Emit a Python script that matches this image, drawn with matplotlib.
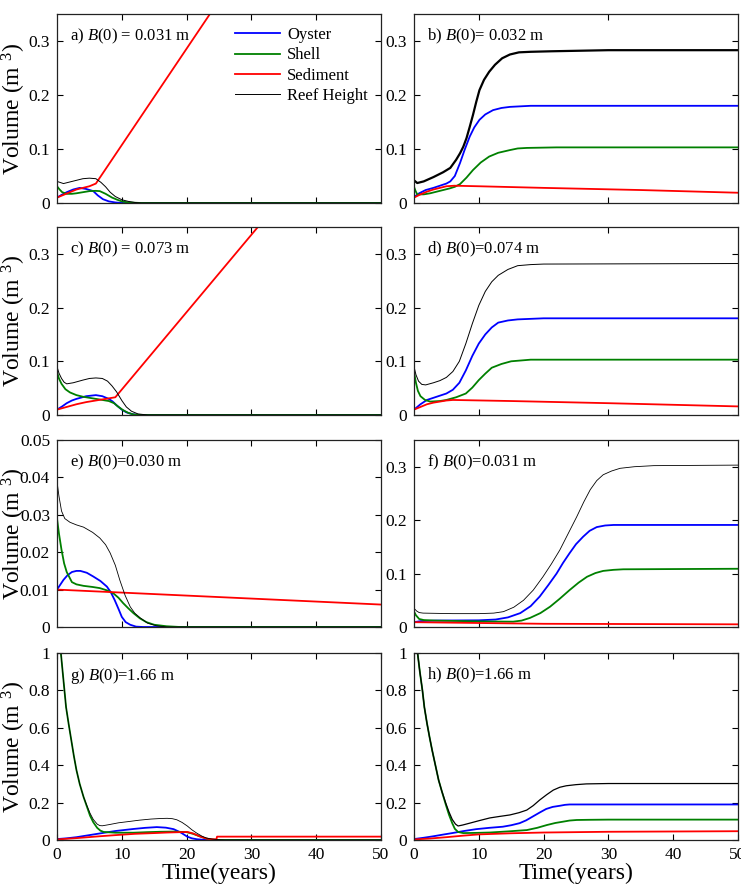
import matplotlib
matplotlib.use("Agg")
import matplotlib.pyplot as plt
import numpy as np

plt.rcParams["font.family"] = ["Liberation Serif", "DejaVu Serif"]
plt.rcParams["mathtext.fontset"] = "custom"
plt.rcParams["mathtext.rm"] = "Liberation Serif"
plt.rcParams["mathtext.it"] = "Liberation Serif:italic"

# (time in years, volume in m^3)
a_oyster = [(0, 0.01), (0.7, 0.015), (1.5, 0.02), (2.5, 0.025), (3.5, 0.028), (4.5, 0.026), (5.6, 0.022), (6.3, 0.014),
            (7.1, 0.007), (8, 0.003), (9, 0.001), (10, 0), (50, 0)]
a_shell = [(0, 0.031), (0.4, 0.025), (0.8, 0.02), (1.5, 0.017), (2.3, 0.017), (3, 0.018), (4, 0.02), (5, 0.022),
           (6, 0.0225), (6.6, 0.022), (7.5, 0.017), (8.5, 0.01), (9.3, 0.006), (10, 0.003), (11, 0.001), (13, 0), (50, 0)]
a_sed = [(0, 0.01), (1, 0.015), (2, 0.02), (3, 0.025), (4, 0.028), (5, 0.031), (6, 0.036), (23.6, 0.35), (30, 0.464)]
a_reef = [(0, 0.04), (0.5, 0.038), (1, 0.036), (2, 0.039), (3, 0.042), (4, 0.045), (5, 0.046), (6, 0.045), (6.8, 0.038),
          (7.5, 0.03), (8.2, 0.02), (9, 0.012), (10, 0.006), (11, 0.003), (12, 0.001), (13, 0), (50, 0)]

b_oyster = [(0, 0.011), (0.8, 0.018), (1.8, 0.024), (3, 0.028), (4, 0.032), (5, 0.036), (5.6, 0.04), (6.3, 0.05),
            (7.1, 0.074), (7.8, 0.098), (8.6, 0.123), (9.3, 0.14), (10.1, 0.154), (11, 0.164), (12.2, 0.172),
            (13.5, 0.176), (14.8, 0.178), (18, 0.18), (50, 0.18)]
b_shell = [(0, 0.03), (0.25, 0.022), (0.5, 0.016), (1.5, 0.016), (2.5, 0.018), (3.5, 0.021), (4.5, 0.024), (5.5, 0.027),
           (6.3, 0.03), (7.1, 0.035), (8.1, 0.047), (9.1, 0.061), (10.3, 0.075), (11.6, 0.086), (13, 0.093),
           (14.8, 0.098), (16, 0.101), (17.4, 0.102), (22, 0.103), (50, 0.103)]
b_sed = [(0, 0.01), (1, 0.016), (2, 0.021), (3, 0.025), (4, 0.028), (5, 0.031), (6.2, 0.032), (10, 0.031), (20, 0.028),
         (35, 0.024), (50, 0.019)]
b_reef = [(0, 0.042), (0.5, 0.037), (1.5, 0.04), (3, 0.048), (4.5, 0.057), (5.6, 0.065), (6.5, 0.08), (7.1, 0.092),
          (7.6, 0.104), (8.1, 0.12), (8.6, 0.141), (9.1, 0.163), (9.6, 0.187), (10.1, 0.209), (10.8, 0.228),
          (11.6, 0.243), (12.5, 0.256), (13.6, 0.268), (14.8, 0.275), (16.2, 0.279), (18, 0.28), (21.3, 0.281),
          (30, 0.283), (50, 0.283)]

c_oyster = [(0, 0.01), (0.8, 0.016), (1.5, 0.022), (2.3, 0.027), (3, 0.03), (4.5, 0.035), (6, 0.037), (7, 0.035),
            (8, 0.03), (8.6, 0.025), (9.2, 0.018), (10, 0.01), (10.7, 0.005), (11.5, 0.002), (12.5, 0), (50, 0)]
c_shell = [(0, 0.08), (0.3, 0.068), (0.7, 0.058), (1.3, 0.048), (2, 0.042), (3, 0.037), (4, 0.034), (5, 0.032),
           (6.5, 0.029), (8, 0.026), (8.8, 0.022), (9.5, 0.015), (10.2, 0.009), (11, 0.004), (11.8, 0.001), (13, 0),
           (50, 0)]
c_sed = [(0, 0.01), (1.5, 0.015), (3, 0.02), (4.5, 0.024), (6, 0.027), (7.5, 0.03), (9, 0.033), (31, 0.35), (40, 0.48)]
c_reef = [(0, 0.09), (0.3, 0.078), (0.7, 0.068), (1.1, 0.061), (1.5, 0.058), (2.5, 0.06), (4, 0.065), (5, 0.068),
          (6, 0.069), (7, 0.068), (7.8, 0.063), (8.5, 0.054), (9.2, 0.043), (10, 0.027), (10.7, 0.015), (11.5, 0.007),
          (12.5, 0.002), (14, 0), (50, 0)]

d_oyster = [(0, 0.01), (1, 0.02), (2, 0.028), (3.5, 0.034), (5, 0.04), (6, 0.047), (7, 0.06), (8, 0.083), (9, 0.11),
            (10, 0.133), (11, 0.15), (12, 0.163), (13, 0.172), (14.5, 0.176), (16, 0.178), (20, 0.18), (50, 0.18)]
d_shell = [(0, 0.08), (0.3, 0.06), (0.6, 0.045), (1, 0.035), (1.7, 0.028), (2.5, 0.025), (4, 0.026), (5, 0.028),
           (6.5, 0.033), (8, 0.04), (9, 0.051), (10, 0.065), (11, 0.077), (12, 0.088), (13.5, 0.095), (15, 0.1),
           (18, 0.103), (50, 0.103)]
d_sed = [(0, 0.01), (1, 0.015), (2, 0.02), (3, 0.023), (4, 0.025), (5, 0.027), (6, 0.028), (15, 0.026), (30, 0.022),
         (50, 0.016)]
d_reef = [(0, 0.09), (0.3, 0.075), (0.7, 0.063), (1.2, 0.057), (1.8, 0.056), (3, 0.06), (4, 0.064), (5, 0.07),
          (6, 0.081), (7, 0.1), (8, 0.133), (9, 0.17), (10, 0.204), (11, 0.23), (12, 0.248), (13, 0.26),
          (14.5, 0.271), (16, 0.278), (18, 0.28), (20, 0.281), (50, 0.282)]

e_oyster = [(0, 0.01), (0.5, 0.0113), (1, 0.0126), (1.6, 0.0138), (2.3, 0.0147), (3, 0.015), (3.6, 0.015),
            (4.6, 0.0145), (5.6, 0.0135), (6.7, 0.0123), (7.7, 0.0108), (8.3, 0.0093), (8.9, 0.0072), (9.5, 0.0048),
            (10, 0.0027), (10.6, 0.0013), (11.3, 0.0006), (12.2, 0.0001), (13.3, 0), (50, 0)]
e_shell = [(0, 0.029), (0.3, 0.025), (0.7, 0.0206), (1.1, 0.017), (1.5, 0.0147), (2.3, 0.012), (3, 0.0114),
           (4.1, 0.011), (5.5, 0.0107), (6.6, 0.0104), (7.7, 0.0098), (8.7, 0.009), (9.5, 0.0078), (10.2, 0.0064),
           (11, 0.005), (11.8, 0.0037), (12.8, 0.0023), (13.8, 0.0013), (15, 0.0006), (16.9, 0.0002), (19, 0), (50, 0)]
e_sed = [(0, 0.01), (50, 0.006)]
e_reef = [(0, 0.0389), (0.3, 0.035), (0.7, 0.031), (1.2, 0.029), (2, 0.028), (3, 0.0273), (4.1, 0.0267),
          (5.5, 0.0253), (6.6, 0.0238), (7.5, 0.022), (8.2, 0.0198), (9, 0.0165), (9.7, 0.0125), (10.5, 0.0085),
          (11.3, 0.0054), (12, 0.0037), (12.8, 0.0025), (14, 0.001), (15.4, 0.0003), (17, 0), (50, 0)]

f_oyster = [(0, 0.009), (1, 0.011), (3.3, 0.012), (10, 0.0125), (12.6, 0.014), (14.5, 0.018), (16.4, 0.026),
            (18, 0.039), (19.4, 0.057), (20.7, 0.078), (22, 0.1), (23, 0.12), (24, 0.138), (25, 0.155), (26.1, 0.169),
            (27.1, 0.18), (28.2, 0.187), (29.5, 0.19), (30.8, 0.191), (50, 0.191)]
f_shell = [(0, 0.029), (0.3, 0.022), (0.8, 0.015), (1.5, 0.013), (3.3, 0.012), (10, 0.0105), (15.3, 0.01),
           (16.6, 0.012), (17.9, 0.017), (19.5, 0.026), (21, 0.038), (22.5, 0.053), (24, 0.069), (25.4, 0.083),
           (26.7, 0.094), (28, 0.101), (29.2, 0.105), (30.8, 0.107), (32.3, 0.108), (50, 0.109)]
f_sed = [(0, 0.009), (20, 0.006), (50, 0.005)]
f_reef = [(0, 0.035), (0.4, 0.03), (0.8, 0.027), (1.4, 0.026), (6, 0.025), (10, 0.025), (12.3, 0.026),
          (13.8, 0.0287), (15.4, 0.037), (16.9, 0.05), (18.4, 0.069), (19.9, 0.094), (21.2, 0.118), (22.5, 0.144),
          (23.8, 0.175), (25.1, 0.206), (26.2, 0.234), (27.2, 0.257), (28.2, 0.274), (29.2, 0.285), (30.5, 0.292),
          (31.8, 0.297), (34, 0.3), (37, 0.302), (50, 0.303)]

g_oyster = [(0, 0.005), (1.5, 0.009), (3, 0.015), (4.8, 0.025), (6.6, 0.035), (9, 0.048), (11.8, 0.059),
            (13.6, 0.065), (15.4, 0.069), (16.8, 0.066), (18, 0.058), (19.1, 0.04), (20.1, 0.018), (20.8, 0.009),
            (21.6, 0.004), (23, 0), (50, 0)]
g_shell = [(0, 1.6), (0.3, 1.25), (0.6, 1.0), (0.9, 0.89), (1.4, 0.71), (1.8, 0.62), (2.2, 0.535), (2.6, 0.45),
           (3, 0.374), (3.5, 0.3), (4.1, 0.23), (4.6, 0.18), (5.1, 0.13), (5.6, 0.095), (6.2, 0.065), (6.7, 0.05),
           (7.2, 0.043), (9, 0.039), (11.8, 0.039), (14, 0.042), (15.9, 0.044), (18, 0.045), (20, 0.042),
           (21, 0.033), (22, 0.02), (23, 0.008), (24, 0.002), (25, 0), (50, 0)]
g_sed = [(0, 0.003), (3, 0.01), (6.6, 0.02), (9, 0.026), (12, 0.033), (15, 0.037), (17, 0.04), (20.1, 0.043),
         (21, 0.035), (22, 0.02), (23, 0.008), (23.8, 0.004), (24.6, 0.004), (24.7, 0.018), (50, 0.018)]
g_reef = [(0, 1.6), (0.3, 1.25), (0.6, 1.0), (0.9, 0.89), (1.4, 0.71), (1.8, 0.62), (2.2, 0.535), (2.6, 0.45),
          (3, 0.374), (3.5, 0.3), (4.1, 0.23), (4.6, 0.185), (5.1, 0.143), (5.6, 0.11), (6.2, 0.085), (6.6, 0.077),
          (7, 0.076), (8, 0.082), (9.5, 0.092), (10.9, 0.098), (12.7, 0.106), (14.5, 0.112), (16, 0.115),
          (17, 0.116), (17.8, 0.114), (18.5, 0.108), (19.3, 0.094), (20.1, 0.075), (20.8, 0.055), (21.6, 0.036),
          (22.4, 0.02), (23.1, 0.01), (23.9, 0.005), (24.7, 0.002), (26, 0), (50, 0)]

h_oyster = [(0, 0.005), (1.5, 0.012), (3, 0.02), (4.5, 0.029), (5.9, 0.037), (7.7, 0.048), (9.6, 0.058),
            (11.6, 0.065), (13.7, 0.071), (15, 0.079), (16.3, 0.09), (17.3, 0.105), (18.3, 0.125), (19.4, 0.147),
            (20.4, 0.166), (21.4, 0.177), (22.5, 0.183), (23.3, 0.188), (24, 0.19), (50, 0.19)]
h_shell = [(0, 1.6), (0.3, 1.2), (0.55, 1.0), (0.9, 0.9), (1.3, 0.8), (1.6, 0.71), (2, 0.625), (2.4, 0.55),
           (2.8, 0.48), (3.3, 0.4), (3.8, 0.32), (4.3, 0.26), (4.9, 0.19), (5.4, 0.135), (5.9, 0.09), (6.3, 0.06),
           (6.8, 0.043), (7.6, 0.037), (9.5, 0.038), (11.7, 0.04), (14.5, 0.046), (17.4, 0.053), (19, 0.065),
           (20.5, 0.08), (21.8, 0.091), (23, 0.098), (24, 0.104), (25.1, 0.107), (27, 0.108), (30, 0.109),
           (50, 0.109)]
h_sed = [(0, 0.003), (2.5, 0.008), (5, 0.015), (7.5, 0.023), (10, 0.03), (15, 0.036), (20, 0.04), (30, 0.044),
         (50, 0.047)]
h_reef = [(0, 1.6), (0.3, 1.2), (0.55, 1.0), (0.9, 0.9), (1.3, 0.8), (1.6, 0.71), (2, 0.625), (2.4, 0.55),
          (2.8, 0.48), (3.3, 0.4), (3.8, 0.32), (4.3, 0.26), (4.9, 0.197), (5.4, 0.15), (5.9, 0.11), (6.4, 0.085),
          (6.8, 0.075), (7.5, 0.08), (8.6, 0.09), (10, 0.103), (11.7, 0.118), (13.2, 0.126), (14.8, 0.134),
          (16.2, 0.146), (17.4, 0.16), (18.4, 0.184), (19.4, 0.214), (20.5, 0.243), (21.5, 0.267), (22.5, 0.282),
          (23.5, 0.29), (25, 0.296), (26.6, 0.3), (30, 0.302), (50, 0.302)]

panel_labels = ["a) $B$(0) = 0.031 m", "b) $B$(0)= 0.032 m", "c) $B$(0) = 0.073 m", "d) $B$(0)=0.074 m",
                "e) $B$(0)=0.030 m", "f) $B$(0)=0.031 m", "g) $B$(0)=1.66 m", "h) $B$(0)=1.66 m"]
series_names = ["Oyster", "Shell", "Sediment", "Reef Height"]

panels = [
    (a_oyster, a_shell, a_sed, a_reef),
    (b_oyster, b_shell, b_sed, b_reef),
    (c_oyster, c_shell, c_sed, c_reef),
    (d_oyster, d_shell, d_sed, d_reef),
    (e_oyster, e_shell, e_sed, e_reef),
    (f_oyster, f_shell, f_sed, f_reef),
    (g_oyster, g_shell, g_sed, g_reef),
    (h_oyster, h_shell, h_sed, h_reef),
]

ticks_035 = [0, 0.1, 0.2, 0.3]
ticks_005 = [0, 0.01, 0.02, 0.03, 0.04, 0.05]
ticks_1 = [0, 0.2, 0.4, 0.6, 0.8, 1]
ylims = [0.35, 0.35, 0.35, 0.35, 0.05, 0.35, 1, 1]
yticks = [ticks_035, ticks_035, ticks_035, ticks_035, ticks_005, ticks_035, ticks_1, ticks_1]

colors = ["#0000ff", "#008000", "#ff0000", "black"]
reef_lw = [0.7, 1.6, 0.7, 0.7, 0.6, 0.6, 0.6, 0.9]

fig = plt.figure(figsize=(7.41, 8.92), dpi=100)
lefts = [57 / 741, 414 / 741]
width = 324 / 741
rows = [(14, 203), (227, 415), (440, 627), (653, 840)]

for i, series in enumerate(panels):
    r, c = divmod(i, 2)
    top, bot = rows[r]
    ax = fig.add_axes([lefts[c], 1 - bot / 892, width, (bot - top) / 892])
    for j, pts in enumerate(series):
        arr = np.array(pts)
        lw = reef_lw[i] if j == 3 else 1.3
        ax.plot(arr[:, 0], arr[:, 1], color=colors[j], lw=lw, label=series_names[j])
    ax.set_xlim(0, 50)
    ax.set_ylim(0, ylims[i])
    ax.set_yticks(yticks[i])
    ax.set_yticklabels(["0"] + [f"{v:g}" for v in yticks[i][1:]])
    if r == 3:
        ax.set_xticks([0, 10, 20, 30, 40, 50])
        ax.set_xlabel("Time(years)", fontsize=17, labelpad=0)
    elif c == 0:
        ax.set_xticks([10, 20, 30, 40])
        ax.set_xticklabels([])
    else:
        ax.set_xticks([10, 30])
        ax.set_xticklabels([])
    ax.tick_params(direction="in", top=True, right=True, labelsize=12.5, length=4, width=0.8, pad=5)
    for s in ax.spines.values():
        s.set_linewidth(0.9)
        s.set_color("#222222")
    if c == 0:
        ax.set_ylabel("Volume (m $^{3}$)", fontsize=17)
        ax.yaxis.set_label_coords(-0.088, 0.5)
    ax.text(0.04, 0.93, panel_labels[i], transform=ax.transAxes, fontsize=12, va="top", ha="left")
    if i == 0:
        ax.legend(loc="upper right", frameon=False, fontsize=12, handlelength=2.7,
                  handletextpad=0.4, labelspacing=0.25, borderaxespad=0.4)

fig.savefig("out.png", dpi=100)
